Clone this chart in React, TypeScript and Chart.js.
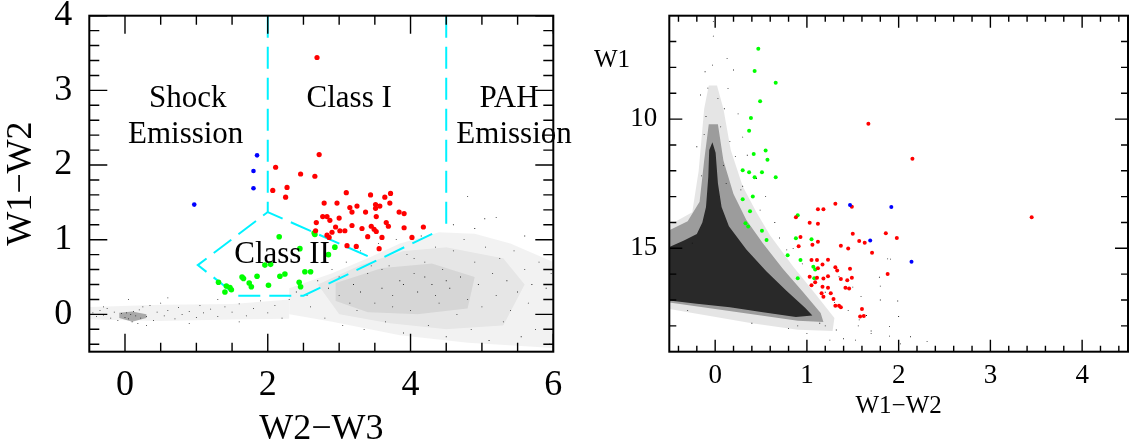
import React, { useEffect, useRef } from 'react';
import { Chart, registerables } from 'chart.js';

Chart.register(...registerables);

const FONT = "'Liberation Serif', 'Times New Roman', serif";
const RED = '#ff0000';
const GREEN = '#00ff00';
const BLUE = '#0000ff';
const CYAN = '#00f2ff';

type P = [number, number];

// ---------------- Left panel: W2-W3 (x) vs W1-W2 (y) ----------------
const leftXLabels = [0, 2, 4, 6];
const leftYLabels = [0, 1, 2, 3, 4];
const leftXMinor = [0.5, 1, 1.5, 2.5, 3, 3.5, 4.5, 5, 5.5];
const leftYMinor = [-0.4, -0.2, 0.2, 0.4, 0.6, 0.8, 1.2, 1.4, 1.6, 1.8, 2.2, 2.4, 2.6, 2.8, 3.2, 3.4, 3.6, 3.8];

const leftClassI: P[] = [
  [2.72, 2.14], [2.11, 1.97], [2.46, 1.88], [2.66, 1.85], [2.27, 1.7], [2.07, 1.66], [2.25, 1.57],
  [3.1, 1.63], [3.44, 1.6], [3.72, 1.62], [3.64, 1.57], [2.79, 1.49], [2.97, 1.49], [3.25, 1.45],
  [3.15, 1.43], [3.51, 1.47], [3.57, 1.45], [3.51, 1.42], [3.71, 1.49], [3.18, 1.37], [3.37, 1.37],
  [3.84, 1.37], [3.91, 1.35], [2.77, 1.31], [2.83, 1.31], [2.68, 1.23], [2.87, 1.26], [3.0, 1.29],
  [3.52, 1.31], [3.66, 1.23], [3.69, 1.18], [3.45, 1.18], [3.49, 1.14], [3.18, 1.19], [3.32, 1.15],
  [2.95, 1.17], [3.01, 1.12], [3.08, 1.12], [2.9, 1.1], [2.67, 1.12], [2.83, 1.06], [2.86, 1.03],
  [3.52, 1.11], [3.6, 1.03], [3.4, 1.04], [3.91, 1.16], [4.18, 1.17], [4.02, 1.03], [3.11, 0.92],
  [3.24, 0.91], [3.56, 0.88], [2.69, 3.44],
];
const leftClassII: P[] = [
  [2.16, 1.04], [2.65, 1.09], [2.66, 1.07], [2.45, 0.88], [2.94, 0.9], [2.85, 0.8], [1.96, 0.66],
  [2.04, 0.67], [1.64, 0.5], [1.66, 0.48], [1.85, 0.51], [2.17, 0.51], [2.24, 0.54], [2.52, 0.57],
  [2.6, 0.57], [1.31, 0.43], [1.42, 0.38], [1.47, 0.36], [1.49, 0.33], [1.4, 0.3], [1.74, 0.42],
  [1.77, 0.37], [2.01, 0.39], [2.44, 0.43], [2.46, 0.37],
];
const leftShock: P[] = [[1.85, 2.13], [1.8, 1.92], [1.8, 1.69], [0.97, 1.47]];

const leftField: P[] = [
  [-0.45, 0.02], [-0.4, -0.03], [-0.35, 0.05], [-0.3, -0.01], [-0.25, 0.08], [-0.2, -0.05], [-0.15, 0.03],
  [-0.1, -0.08], [-0.05, 0.01], [0.0, -0.04], [0.02, 0.02], [0.05, -0.06], [0.08, 0.0], [0.1, -0.1],
  [0.12, 0.04], [0.15, -0.02], [0.18, -0.12], [0.2, 0.06], [0.22, -0.05], [0.25, 0.1], [0.3, -0.03],
  [0.35, 0.12], [0.4, -0.08], [0.45, 0.03], [0.5, 0.15], [0.55, -0.02], [0.6, 0.05], [0.7, -0.06],
  [0.75, 0.09], [0.8, 0.0], [0.9, 0.04], [1.0, -0.04], [1.05, 0.12], [1.1, 0.02], [1.2, 0.07],
  [1.3, -0.03], [1.4, 0.1], [1.5, 0.03], [1.6, 0.14], [1.7, -0.02], [1.8, 0.08], [1.9, 0.18],
  [2.0, 0.02], [2.1, 0.12], [2.2, -0.05], [2.3, 0.2], [0.05, 0.2], [-0.3, 0.1], [0.6, 0.22],
  [1.3, 0.2], [0.3, -0.15], [0.9, -0.12], [1.6, -0.1],
  [2.4, 0.3], [2.6, 0.1], [2.7, 0.45], [2.8, -0.05], [2.9, 0.6], [3.0, 0.25], [3.05, -0.15],
  [3.1, 0.7], [3.2, 0.4], [3.25, 0.05], [3.3, 0.85], [3.35, -0.2], [3.4, 0.55], [3.5, 0.15],
  [3.55, 0.95], [3.6, 0.35], [3.65, -0.1], [3.7, 0.65], [3.75, 0.25], [3.8, 1.0], [3.85, 0.45],
  [3.9, -0.25], [3.95, 0.8], [4.0, 0.05], [4.05, 0.55], [4.1, 0.3], [4.15, 1.05], [4.2, 0.7],
  [4.25, -0.15], [4.3, 0.4], [4.35, 0.9], [4.4, 0.15], [4.45, 0.6], [4.5, -0.3], [4.55, 0.35],
  [4.6, 0.85], [4.65, 0.0], [4.7, 0.5], [4.75, 1.0], [4.8, 0.2], [4.85, -0.2], [4.9, 0.7],
  [4.95, 0.4], [5.0, 0.1], [5.05, 0.9], [5.1, -0.35], [5.15, 0.55], [5.2, 0.25], [5.25, 0.75],
  [5.3, -0.1], [5.35, 0.45], [5.4, 0.05], [5.45, 0.85], [5.5, 0.3], [5.55, -0.3], [5.6, 0.6],
  [5.65, 0.15], [5.7, 0.4], [5.75, -0.2], [5.8, 0.7], [5.85, 0.0], [5.9, 0.35], [5.95, -0.4],
  [5.97, 0.55], [3.0, 0.5], [3.3, 0.3], [3.6, 0.6], [3.9, 0.4], [4.2, 0.5], [4.5, 0.45],
  [3.45, 0.65], [3.75, 0.1], [4.05, 0.75], [4.35, 0.25], [3.15, 0.15], [2.85, 0.35], [2.55, 0.25],
  [4.9, 1.15], [5.2, 1.3], [4.6, 1.2], [5.6, 1.05], [4.8, 1.58], [5.04, 1.28],
];

// density outlines of the field-star cloud
const leftCloudOuter: P[] = [
  [2.3, 0.35], [2.9, 0.55], [3.4, 0.75], [3.85, 0.95], [4.4, 1.1], [4.9, 1.08], [5.4, 0.95],
  [6.0, 0.7], [6.0, -0.45], [4.8, -0.38], [3.85, -0.28], [2.9, -0.1], [2.3, 0.0],
];
const leftCloudMid: P[] = [
  [2.7, 0.4], [3.3, 0.66], [3.9, 0.85], [4.5, 0.9], [5.3, 0.75], [5.6, 0.4], [5.3, -0.15],
  [4.5, -0.2], [3.7, -0.12], [3.0, 0.0],
];
const leftCloudInner: P[] = [
  [2.95, 0.42], [3.6, 0.62], [4.3, 0.68], [4.9, 0.5], [4.8, 0.08], [4.1, 0.0], [3.4, 0.03], [2.95, 0.18],
];
const leftStrip: P[] = [
  [-0.5, 0.1], [0.5, 0.13], [1.5, 0.14], [2.3, 0.2], [2.3, -0.06], [1.5, -0.07], [0.5, -0.09], [-0.5, -0.07],
];
const leftCluster: P[] = [[-0.08, 0.02], [0.1, 0.04], [0.3, 0.0], [0.3, -0.05], [0.1, -0.1], [-0.08, -0.05]];

// colour-cut boundaries
const cutClassIWest: P[] = [[2, 4], [2, 1.37]];
const cutPAH: P[] = [[4.5, 4], [4.5, 1.15]];
const cutClassII: P[] = [[3.4, 0.78], [2, 1.37], [1.02, 0.66], [1.57, 0.25], [2.5, 0.25], [4.35, 1.1]];

// ---------------- Right panel: W1-W2 (x) vs W1 (y) ----------------
const rightXLabels = [0, 1, 2, 3, 4];
const rightYLabels = [10, 15];
const rightXMinor = [-0.4, -0.2, 0.2, 0.4, 0.6, 0.8, 1.2, 1.4, 1.6, 1.8, 2.2, 2.4, 2.6, 2.8, 3.2, 3.4, 3.6, 3.8, 4.2, 4.4];
const rightYMinor = [7, 8, 9, 11, 12, 13, 14, 16, 17, 18];

const rightClassII: P[] = [
  [0.47, 7.28], [0.43, 8.14], [0.66, 8.59], [0.49, 9.31], [0.39, 9.96], [0.37, 10.45], [0.55, 11.22],
  [0.42, 11.35], [0.57, 11.57], [0.3, 11.98], [0.37, 12.06], [0.51, 12.06], [0.43, 12.25], [0.66, 12.25],
  [0.41, 13.0], [0.3, 13.1], [0.38, 13.57], [0.33, 14.03], [0.36, 14.16], [0.51, 14.32], [0.56, 14.68],
  [0.9, 13.72], [0.88, 14.61], [1.05, 14.65], [0.93, 15.45], [0.79, 15.27], [1.07, 15.71], [1.09, 15.82],
  [0.9, 16.16], [1.08, 16.16],
];
const rightClassI: P[] = [
  [1.67, 10.18], [2.15, 11.53], [1.31, 13.28], [1.49, 13.39], [1.12, 13.49], [1.18, 13.49], [0.88, 13.8],
  [1.03, 14.01], [1.12, 14.05], [0.93, 14.56], [1.12, 14.75], [1.06, 14.86], [0.91, 14.92], [1.5, 14.44],
  [1.37, 14.9], [1.45, 15.01], [1.57, 14.72], [1.63, 14.78], [1.71, 15.17], [1.86, 14.42], [1.98, 14.6],
  [1.88, 15.99], [1.05, 15.45], [1.11, 15.45], [1.23, 15.44], [1.17, 15.63], [1.12, 15.77], [1.31, 15.73],
  [1.33, 15.86], [1.47, 15.79], [1.03, 16.1], [1.11, 16.14], [1.09, 16.31], [1.18, 16.17], [1.23, 16.08],
  [1.37, 16.19], [1.44, 16.24], [1.49, 16.14], [1.05, 16.43], [1.17, 16.49], [1.23, 16.53], [1.42, 16.53],
  [1.46, 16.55], [1.16, 16.74], [1.26, 16.74], [1.18, 16.87], [1.29, 16.96], [1.31, 17.22], [1.35, 17.22],
  [1.37, 17.28], [1.6, 17.35], [1.58, 17.64], [1.62, 17.62], [3.45, 13.8],
];
const rightShock: P[] = [[1.47, 13.32], [1.92, 13.4], [1.69, 14.7], [2.14, 15.52]];

const rightField: P[] = [
  [-0.02, 6.23], [-0.02, 6.79], [-0.03, 7.91], [-0.11, 8.17], [-0.16, 9.07], [0.13, 7.65], [0.14, 8.82],
  [0.16, 10.87], [0.22, 11.45], [0.28, 12.74], [0.49, 13.52], [0.78, 15.06], [1.14, 17.9], [1.25, 18.55],
  [1.32, 18.16], [1.53, 18.55], [1.57, 17.77], [-0.2, 11.07], [-0.25, 14.8], [1.88, 15.41], [1.91, 15.42],
  [1.79, 16.12], [1.8, 16.46], [1.99, 17.04], [2.0, 17.64], [2.13, 18.42], [2.31, 18.61], [2.02, 18.7],
  [1.9, 18.03], [1.7, 18.29], [1.59, 16.87], [1.56, 18.0], [0.1, 9.6], [0.2, 8.1], [0.25, 9.8],
  [0.3, 10.7], [0.35, 11.4], [0.45, 12.3], [0.3, 12.6], [0.55, 13.0], [0.65, 14.0], [0.7, 14.6],
  [0.85, 15.0], [0.95, 15.6], [1.1, 16.2], [1.2, 16.7], [1.3, 17.1], [1.45, 17.4], [1.7, 18.2],
  [1.9, 18.4], [1.2, 18.0], [1.0, 18.3], [0.8, 18.1], [1.4, 18.5], [1.65, 17.6], [1.8, 17.0],
  [1.35, 16.1], [1.5, 16.5], [0.4, 17.9], [0.9, 18.0], [-0.3, 17.4], [-0.08, 8.8], [0.03, 9.2],
  [-0.1, 9.9], [0.06, 10.3], [-0.12, 10.6], [0.09, 11.8], [-0.15, 12.2], [0.12, 12.5],
];
// sparse envelope and dense core of the field-star distribution
const rightHaloSparse: P[] = [
  [-0.12, 9.6], [-0.07, 8.7], [0.02, 8.7], [0.09, 9.6], [0.17, 11.2], [0.3, 12.6], [0.45, 13.6],
  [0.6, 14.5], [0.85, 15.7], [1.1, 16.8], [1.3, 17.7], [1.28, 18.2], [0.9, 18.15], [0.4, 17.9],
  [-0.5, 17.35], [-0.5, 14.1], [-0.25, 13.6], [-0.18, 12.0],
];
const rightHalo: P[] = [
  [-0.5, 14.3], [-0.3, 13.95], [-0.17, 13.2], [-0.12, 11.6], [-0.07, 10.2], [0.03, 10.2], [0.09, 11.6],
  [0.2, 12.9], [0.34, 13.9], [0.52, 14.8], [0.74, 15.8], [0.96, 16.7], [1.15, 17.5], [1.18, 17.85],
  [0.9, 17.8], [0.5, 17.6], [0.0, 17.35], [-0.5, 17.1],
];
const rightCore: P[] = [
  [-0.5, 14.95], [-0.34, 14.7], [-0.2, 14.45], [-0.14, 14.0], [-0.1, 13.4], [-0.075, 12.23],
  [-0.065, 11.2], [-0.03, 10.9], [0.005, 11.3], [0.03, 12.48], [0.07, 13.4], [0.15, 14.15],
  [0.34, 15.05], [0.56, 15.9], [0.78, 16.65], [0.98, 17.3], [1.06, 17.6], [0.88, 17.66],
  [0.52, 17.47], [0.16, 17.28], [-0.2, 17.14], [-0.5, 17.02],
];

const pts = (arr: P[]) => arr.map(([x, y]) => ({ x, y }));

const framePlugin = {
  id: 'frameTicks',
  afterDatasetsDraw(chart: any, _args: any, opts: any) {
    const { ctx, chartArea: a, scales } = chart;
    const xs = scales.x;
    const ys = scales.y;
    ctx.save();
    ctx.strokeStyle = '#000';
    ctx.lineWidth = 1.4;
    const tickX = (vals: number[], len: number) => {
      vals.forEach((v) => {
        const px = xs.getPixelForValue(v);
        ctx.beginPath();
        ctx.moveTo(px, a.bottom);
        ctx.lineTo(px, a.bottom - len);
        ctx.moveTo(px, a.top);
        ctx.lineTo(px, a.top + len);
        ctx.stroke();
      });
    };
    const tickY = (vals: number[], len: number) => {
      vals.forEach((v) => {
        const py = ys.getPixelForValue(v);
        ctx.beginPath();
        ctx.moveTo(a.left, py);
        ctx.lineTo(a.left + len, py);
        ctx.moveTo(a.right, py);
        ctx.lineTo(a.right - len, py);
        ctx.stroke();
      });
    };
    tickX(opts.xMajor, opts.xMajorLen);
    tickX(opts.xMinor, opts.xMinorLen);
    tickY(opts.yMajor, opts.yMajorLen);
    tickY(opts.yMinor, opts.yMinorLen);
    ctx.lineWidth = 2;
    ctx.strokeRect(a.left, a.top, a.right - a.left, a.bottom - a.top);
    ctx.fillStyle = '#000';
    ctx.textAlign = 'center';
    ctx.textBaseline = 'middle';
    (opts.texts || []).forEach((t: any) => {
      ctx.font = `${t.size}px ${FONT}`;
      const px = t.data ? xs.getPixelForValue(t.x) : t.x;
      const py = t.data ? ys.getPixelForValue(t.y) : t.y;
      ctx.fillText(t.text, px, py);
    });
    ctx.restore();
  },
};

const pointSet = (label: string, data: P[], color: string, r: number, order: number) => ({
  type: 'scatter' as const,
  label,
  data: pts(data),
  backgroundColor: color,
  borderWidth: 0,
  pointRadius: r,
  pointHoverRadius: r,
  order,
});
const fieldSet = (data: P[]) => ({
  type: 'scatter' as const,
  label: 'field',
  data: pts(data),
  backgroundColor: '#000',
  borderWidth: 0,
  pointStyle: 'rect',
  pointRadius: 0.6,
  order: 5,
});
const areaSet = (data: P[], color: string, order: number) => ({
  type: 'line' as const,
  label: 'density',
  data: pts(data),
  backgroundColor: color,
  borderWidth: 0,
  borderColor: 'rgba(0,0,0,0)',
  pointRadius: 0,
  pointHoverRadius: 0,
  tension: 0,
  fill: 'shape',
  order,
});
const cutSet = (data: P[]) => ({
  type: 'line' as const,
  label: 'cut',
  data: pts(data),
  borderColor: CYAN,
  borderWidth: 2,
  borderDash: [22, 9],
  pointRadius: 0,
  pointHoverRadius: 0,
  tension: 0,
  fill: false,
  order: 2,
});

const axisX = (min: number, max: number, labels: number[], fontSize: number, pad: number, title: string, titleSize: number, titlePadBottom: number) => ({
  type: 'linear' as const,
  min,
  max,
  afterBuildTicks: (s: any) => {
    s.ticks = labels.map((value) => ({ value }));
  },
  afterFit: (s: any) => {
    s.height = 96.3;
    s.paddingLeft = 0;
    s.paddingRight = 0;
  },
  grid: { display: false, drawTicks: false },
  border: { display: false },
  ticks: { color: '#000', font: { family: FONT, size: fontSize }, padding: pad, maxRotation: 0, autoSkip: false },
  title: {
    display: true,
    text: title,
    color: '#000',
    font: { family: FONT, size: titleSize, lineHeight: 1 },
    padding: { top: 0, bottom: titlePadBottom },
  },
});

const axisY = (min: number, max: number, labels: number[], fontSize: number, pad: number, reverse: boolean, title: any) => ({
  type: 'linear' as const,
  min,
  max,
  reverse,
  afterBuildTicks: (s: any) => {
    s.ticks = labels.map((value) => ({ value }));
  },
  afterFit: (s: any) => {
    s.width = 89.3;
    s.paddingTop = 0;
    s.paddingBottom = 0;
  },
  grid: { display: false, drawTicks: false },
  border: { display: false },
  ticks: { color: '#000', font: { family: FONT, size: fontSize }, padding: pad, autoSkip: false },
  title,
});

function leftConfig(): any {
  return {
    type: 'scatter',
    data: {
      datasets: [
        pointSet('Shock emission', leftShock, BLUE, 2.3, 0),
        pointSet('Class I', leftClassI, RED, 2.6, 0),
        pointSet('Class II', leftClassII, GREEN, 2.8, 0),
        cutSet(cutClassIWest),
        cutSet(cutPAH),
        cutSet(cutClassII),
        fieldSet(leftField),
        areaSet(leftCluster, 'rgba(0,0,0,0.3)', 6),
        areaSet(leftCloudInner, 'rgba(0,0,0,0.07)', 7),
        areaSet(leftCloudMid, 'rgba(0,0,0,0.05)', 8),
        areaSet(leftStrip, 'rgba(0,0,0,0.05)', 9),
        areaSet(leftCloudOuter, 'rgba(0,0,0,0.05)', 10),
      ],
    },
    options: {
      animation: false,
      responsive: false,
      devicePixelRatio: 1,
      events: [],
      layout: { padding: { left: 0, right: 26.7, top: 15.7, bottom: 0 } },
      plugins: {
        legend: { display: false },
        tooltip: { enabled: false },
        frameTicks: {
          xMajor: leftXLabels,
          xMinor: leftXMinor,
          yMajor: leftYLabels,
          yMinor: leftYMinor,
          xMajorLen: 18,
          xMinorLen: 9,
          yMajorLen: 18,
          yMinorLen: 10,
          texts: [
            { text: 'Shock', x: 0.88, y: 2.89, size: 31, data: true },
            { text: 'Emission', x: 0.85, y: 2.4, size: 31, data: true },
            { text: 'Class I', x: 3.14, y: 2.89, size: 31, data: true },
            { text: 'PAH', x: 5.38, y: 2.89, size: 31, data: true },
            { text: 'Emission', x: 5.45, y: 2.4, size: 31, data: true },
            { text: 'Class II', x: 2.2, y: 0.8, size: 31, data: true },
          ],
        },
      },
      scales: {
        x: axisX(-0.5, 6, leftXLabels, 36, 12, 'W2−W3', 36, 0),
        y: axisY(-0.5, 4, leftYLabels, 36, 17, false, {
          display: true,
          text: 'W1−W2',
          color: '#000',
          font: { family: FONT, size: 36, lineHeight: 1 },
          padding: { top: 3.5, bottom: 0 },
        }),
      },
    },
    plugins: [framePlugin],
  };
}

function rightConfig(): any {
  return {
    type: 'scatter',
    data: {
      datasets: [
        pointSet('Shock emission', rightShock, BLUE, 2, 0),
        pointSet('Class I', rightClassI, RED, 2, 0),
        pointSet('Class II', rightClassII, GREEN, 2, 0),
        fieldSet(rightField),
        areaSet(rightCore, 'rgba(0,0,0,0.74)', 6),
        areaSet(rightHalo, 'rgba(0,0,0,0.32)', 7),
        areaSet(rightHaloSparse, 'rgba(0,0,0,0.1)', 8),
      ],
    },
    options: {
      animation: false,
      responsive: false,
      devicePixelRatio: 1,
      events: [],
      layout: { padding: { left: 0, right: 1, top: 15.7, bottom: 0 } },
      plugins: {
        legend: { display: false },
        tooltip: { enabled: false },
        frameTicks: {
          xMajor: rightXLabels,
          xMinor: rightXMinor,
          yMajor: rightYLabels,
          yMinor: rightYMinor,
          xMajorLen: 12,
          xMinorLen: 6,
          yMajorLen: 13,
          yMinorLen: 7,
          texts: [{ text: 'W1', x: 32, y: 60, size: 25, data: false }],
        },
      },
      scales: {
        x: axisX(-0.5, 4.5, rightXLabels, 27, 8, 'W1−W2', 25, 29.5),
        y: axisY(6, 19, rightYLabels, 27, 12, true, { display: false }),
      },
    },
    plugins: [framePlugin],
  };
}

export default function App() {
  const leftRef = useRef<HTMLCanvasElement>(null);
  const rightRef = useRef<HTMLCanvasElement>(null);
  useEffect(() => {
    const c1 = new Chart(leftRef.current as HTMLCanvasElement, leftConfig());
    const c2 = new Chart(rightRef.current as HTMLCanvasElement, rightConfig());
    return () => {
      c1.destroy();
      c2.destroy();
    };
  }, []);
  return (
    <div style={{ position: 'absolute', left: 0, top: 0, width: 1132, height: 448, background: '#fff' }}>
      <canvas
        ref={leftRef}
        width={580}
        height={448}
        style={{ position: 'absolute', left: 0, top: 0, width: 580, height: 448 }}
      />
      <canvas
        ref={rightRef}
        width={552}
        height={448}
        style={{ position: 'absolute', left: 580, top: 0, width: 552, height: 448 }}
      />
    </div>
  );
}
